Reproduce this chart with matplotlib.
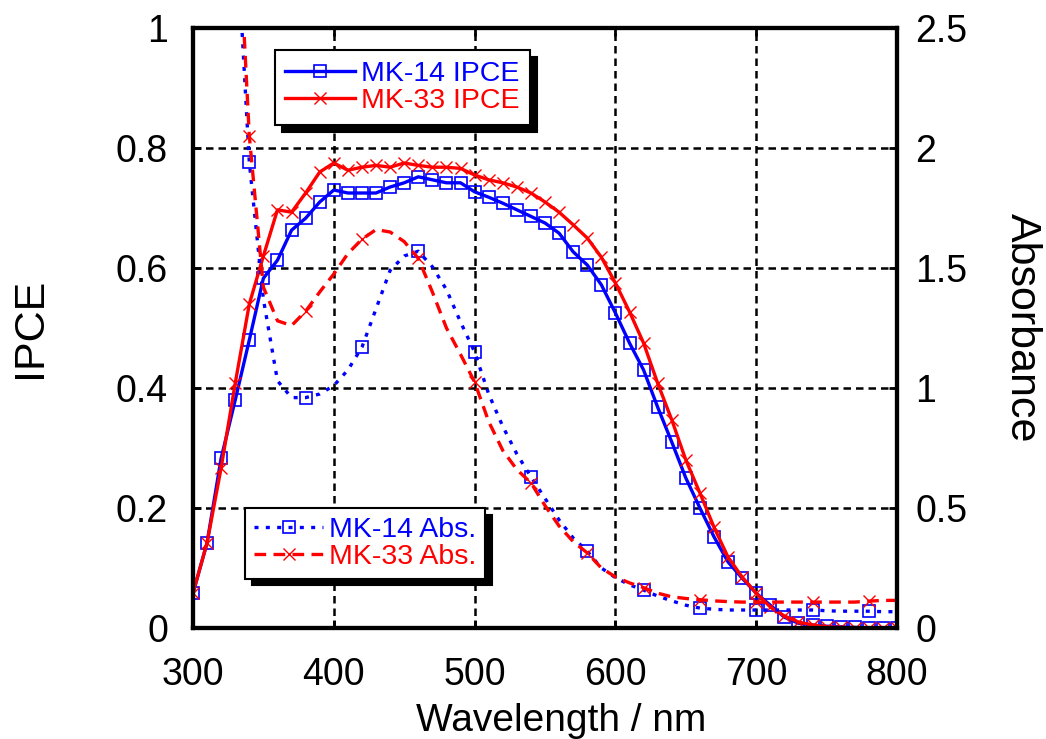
import numpy as np
import matplotlib
matplotlib.use("Agg")
import matplotlib.pyplot as plt

plt.rcParams['font.family'] = ['Liberation Sans', 'DejaVu Sans']

# IPCE, 300-800 nm every 10 nm
wl = list(range(300, 801, 10))
ipce_mk14 = [0.058, 0.142, 0.283, 0.38, 0.48, 0.583, 0.613, 0.663, 0.683, 0.71,
             0.73, 0.725, 0.725, 0.725, 0.735, 0.742, 0.752, 0.747, 0.742, 0.742,
             0.727, 0.718, 0.708, 0.697, 0.686, 0.675, 0.658, 0.627, 0.605, 0.572,
             0.525, 0.475, 0.43, 0.368, 0.31, 0.25, 0.20, 0.152, 0.11, 0.083,
             0.058, 0.038, 0.018, 0.008, 0.005, 0.003, 0.002, 0.001, 0.0, 0.0, 0.0]
ipce_mk33 = [0.058, 0.142, 0.267, 0.408, 0.54, 0.62, 0.697, 0.693, 0.725, 0.76,
             0.775, 0.763, 0.768, 0.771, 0.768, 0.775, 0.771, 0.768, 0.768, 0.766,
             0.755, 0.747, 0.742, 0.735, 0.725, 0.71, 0.693, 0.672, 0.65, 0.618,
             0.575, 0.527, 0.475, 0.408, 0.347, 0.28, 0.225, 0.168, 0.118, 0.085,
             0.058, 0.035, 0.02, 0.01, 0.005, 0.002, 0.001, 0.0, 0.0, 0.0, 0.0]

# absorbance, 330-800 nm every 10 nm
wl_abs = list(range(330, 801, 10))
abs_mk14 = [3.0, 1.94, 1.37, 1.03, 0.96, 0.96, 0.975, 1.01, 1.075, 1.17, 1.33,
            1.49, 1.55, 1.57, 1.505, 1.41, 1.275, 1.15, 0.975, 0.84, 0.725,
            0.63, 0.54, 0.45, 0.375, 0.32, 0.25, 0.21, 0.18, 0.158, 0.133,
            0.113, 0.095, 0.083, 0.078, 0.075, 0.075, 0.075, 0.075, 0.075, 0.075,
            0.075, 0.072, 0.07, 0.07, 0.07, 0.068, 0.068]
abs_mk33 = [3.2, 2.05, 1.42, 1.28, 1.26, 1.32, 1.40, 1.475, 1.56, 1.62, 1.66,
            1.65, 1.61, 1.54, 1.40, 1.25, 1.14, 1.025, 0.86, 0.74, 0.66,
            0.605, 0.51, 0.425, 0.36, 0.313, 0.25, 0.213, 0.188, 0.168, 0.145,
            0.13, 0.123, 0.118, 0.113, 0.11, 0.108, 0.108, 0.108, 0.108, 0.108,
            0.108, 0.108, 0.108, 0.108, 0.112, 0.115, 0.115]

fig = plt.figure(figsize=(10.46, 7.39), dpi=100)
ax = fig.add_axes([0.1845, 0.1502, 0.6731, 0.8119])
ax2 = ax.twinx()

blue = '#0000ff'
red = '#ff0000'

l1, = ax.plot(wl, ipce_mk14, color=blue, lw=2.4, marker='s', ms=8, mfc='none',
              mec=blue, mew=1.2, label='MK-14 IPCE', zorder=3)
l2, = ax.plot(wl, ipce_mk33, color=red, lw=2.4, marker='x', ms=8, mec=red,
              mew=1.0, label='MK-33 IPCE', zorder=3)

l3, = ax2.plot(wl_abs, abs_mk14, color=blue, lw=2.4, ls=(0, (1.2, 2.2)),
               marker='s', ms=8, mfc='none', mec=blue, mew=1.2,
               markevery=(1, 4), label='MK-14 Abs.')
l4, = ax2.plot(wl_abs, abs_mk33, color=red, lw=2.4, ls=(0, (3.5, 2.2)),
               marker='x', ms=8, mec=red, mew=1.0,
               markevery=(1, 4), label='MK-33 Abs.')

ax.set_xlim(300, 800)
ax.set_ylim(0, 1)
ax2.set_ylim(0, 2.5)

ax.set_xticks([300, 400, 500, 600, 700, 800])
ax.set_yticks([0, 0.2, 0.4, 0.6, 0.8, 1])
ax.set_yticklabels(['0', '0.2', '0.4', '0.6', '0.8', '1'])
ax2.set_yticks([0, 0.5, 1, 1.5, 2, 2.5])
ax2.set_yticklabels(['0', '0.5', '1', '1.5', '2', '2.5'])

ax.grid(True, color='black', ls=(0, (3, 2)), lw=1.8)

for a in (ax, ax2):
    for s in a.spines.values():
        s.set_linewidth(3)
ax.tick_params(axis='x', direction='in', length=6, width=2, labelsize=27, pad=21, top=True)
ax.tick_params(axis='y', direction='in', length=6, width=2, labelsize=27, pad=18)
ax2.tick_params(axis='y', direction='in', length=6, width=2, labelsize=27, pad=13)

ax.set_xlabel('Wavelength / nm', fontsize=28, va='center')
ax.xaxis.set_label_coords(0.523, -0.155)
ax.set_ylabel('IPCE', fontsize=31, va='center')
ax.yaxis.set_label_coords(-0.232, 0.5)
ax2.set_ylabel('Absorbance', fontsize=31, rotation=-90, va='center')
ax2.yaxis.set_label_coords(1.178, 0.5)

shadow = {'color': 'black', 'alpha': 1, 'ox': 5, 'oy': -5}
leg1 = ax2.legend(handles=[l1, l2], loc='upper left', bbox_to_anchor=(0.116, 0.963),
                  fontsize=20.5, frameon=True, fancybox=False, shadow=shadow,
                  edgecolor='black', framealpha=1, handlelength=2.45,
                  handletextpad=0.2, borderpad=0.38, labelspacing=0.05, borderaxespad=0)
leg1.get_frame().set_linewidth(1.5)
for t, c in zip(leg1.get_texts(), [blue, red]):
    t.set_color(c)
ax2.add_artist(leg1)

leg2 = ax2.legend(handles=[l3, l4], loc='upper left', bbox_to_anchor=(0.074, 0.2),
                  fontsize=20.5, frameon=True, fancybox=False, shadow=shadow,
                  edgecolor='black', framealpha=1, handlelength=2.45,
                  handletextpad=0.2, borderpad=0.3, labelspacing=0.05, borderaxespad=0)
leg2.get_frame().set_linewidth(1.5)
for t, c in zip(leg2.get_texts(), [blue, red]):
    t.set_color(c)

fig.savefig('out.png', dpi=100)
